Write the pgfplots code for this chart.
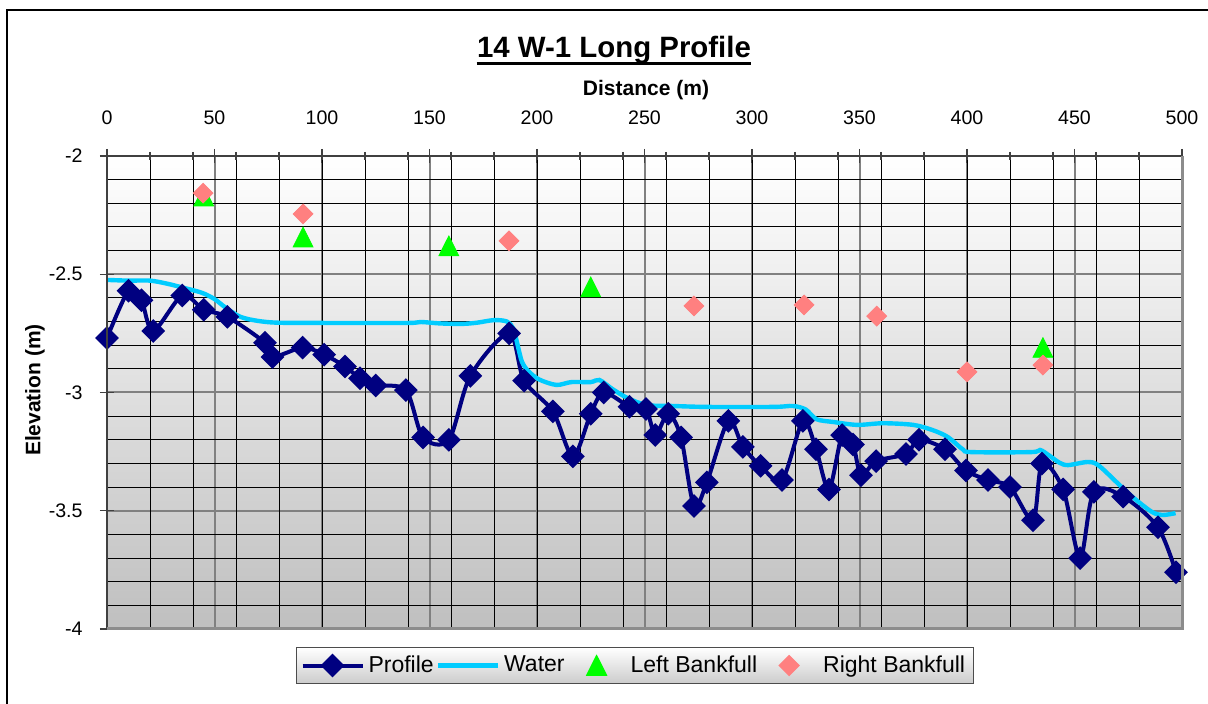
\documentclass[border=0pt]{standalone}
\usepackage{fontspec}
\setmainfont{Liberation Sans}
\usepackage{pgfplots}
\pgfplotsset{compat=1.18}
\definecolor{navyp}{RGB}{0,0,128}
\definecolor{waterc}{RGB}{0,204,255}
\definecolor{leftc}{RGB}{0,255,0}
\definecolor{rightc}{RGB}{255,128,128}
\pgfplotsset{markleg/.style={legend image code/.code={\path[mark repeat=2,mark phase=2,##1,draw=none] plot coordinates {(0pt,0pt) (15pt,0pt) (30pt,0pt)};}}}
\begin{document}
\begin{tikzpicture}
\useasboundingbox (0,0) rectangle (604pt,352pt);
\fill[white] (0,0) rectangle (604pt,352pt);
\draw[line width=0.7pt] (3.5pt,0) -- (3.5pt,347pt) -- (604pt,347pt);
\begin{axis}[
  name=ax,
  at={(53.5pt,37.5pt)}, anchor=south west,
  width=537.5pt, height=236.5pt, scale only axis,
  xmin=0, xmax=500, ymin=-4, ymax=-2,
  axis line style={draw=none},
  axis background/.style={shade, top color=white, bottom color=black!25},
  xtick={0,50,...,500},
  xtick pos=right, xticklabel pos=right,
  ytick pos=left,
  ytick={-4,-3.5,-3,-2.5,-2},
  yticklabels={-4,-3.5,-3,-2.5,-2},
  minor y tick num=4,
  extra x ticks={20,40,...,480},
  extra x tick labels={},
  extra x tick style={grid=major, major grid style={black, line width=0.5pt}, major tick length=4pt},
  grid=both,
  major grid style={black!50, line width=1pt},
  minor grid style={black, line width=0.5pt},
  tick align=center,
  major tick length=7pt, minor tick length=0pt,
  tick style={black!75, line width=0.6pt},
  /pgf/number format/assume math mode=true,
  tick label style={font=\fontsize{9.8}{11}\selectfont},
  xticklabel style={yshift=8.7pt},
  yticklabel style={xshift=-5.2pt},
  legend columns=4,
  legend style={at={(0.491,-0.0772)}, anchor=center, draw=black!70, line width=0.6pt,
    top color=white, bottom color=black!20, font=\fontsize{11.5}{13}\selectfont,
    inner sep=2pt, /tikz/every even column/.append style={column sep=-1pt}},
  legend image code/.code={\draw[mark repeat=2,mark phase=2,#1] plot coordinates {(0pt,0pt) (15pt,0pt) (30pt,0pt)};},
]
\addplot[navyp, line width=2pt, smooth, tension=0.5, mark=square*, mark size=3.2pt, mark options={rotate=45, solid}] table {
x y
0 -2.77
10 -2.57
16 -2.61
21.5 -2.74
35 -2.59
45 -2.65
56 -2.68
73.5 -2.79
77 -2.85
91 -2.81
101 -2.84
110.7 -2.89
117.7 -2.94
125 -2.97
139 -2.99
147 -3.19
159 -3.20
169 -2.93
187 -2.75
194 -2.95
207.4 -3.08
216.7 -3.27
225 -3.09
231 -3.00
243 -3.06
250.7 -3.07
255 -3.18
261 -3.09
267 -3.19
273 -3.48
279 -3.38
289 -3.12
295.8 -3.23
304 -3.31
314 -3.37
323.7 -3.12
329.8 -3.24
335.8 -3.41
341.9 -3.18
347 -3.22
350.7 -3.35
357.7 -3.29
371.6 -3.26
377.7 -3.20
389.8 -3.24
399.5 -3.33
409.8 -3.37
420 -3.40
430.7 -3.54
434.9 -3.30
444.7 -3.41
452.6 -3.70
459 -3.42
472.6 -3.44
488.8 -3.57
497.2 -3.76
};
\addlegendentry{Profile}
\addplot[waterc, line width=2.2pt, smooth, tension=0.5] table {
x y
0 -2.524
10 -2.527
20 -2.527
28 -2.540
35 -2.556
44 -2.578
50 -2.605
55 -2.640
62 -2.680
70 -2.697
80 -2.705
105 -2.706
140 -2.706
146 -2.702
155 -2.708
165 -2.710
172 -2.705
180 -2.694
186 -2.700
189 -2.730
191 -2.800
193 -2.870
196 -2.910
201 -2.945
209 -2.968
216 -2.956
225 -2.956
229 -2.947
235 -2.985
242 -3.023
251 -3.053
263 -3.057
279 -3.061
310 -3.061
319 -3.057
325 -3.072
330 -3.113
338 -3.125
349 -3.137
361 -3.130
375 -3.137
384 -3.159
391 -3.188
398 -3.240
402 -3.252
430 -3.252
434 -3.243
438 -3.265
443 -3.297
447 -3.307
456 -3.294
461 -3.307
470 -3.383
477 -3.442
486 -3.505
491 -3.518
497 -3.510
};
\addlegendentry{Water}
\addplot[draw=none, mark=triangle*, mark size=5.7pt, mark options={draw=leftc, fill=leftc, yshift=-1.6pt, yscale=1.15}, markleg] table {
x y
45 -2.170
91.2 -2.343
159 -2.380
225 -2.554
435.3 -2.810
};
\addlegendentry{Left Bankfull}
\addplot[draw=none, mark=square*, mark size=3.5pt, mark options={draw=rightc, fill=rightc, rotate=45}, markleg] table {
x y
44.7 -2.157
91.2 -2.245
187 -2.359
273 -2.634
324.2 -2.630
358 -2.677
400 -2.913
435.3 -2.884
};
\addlegendentry{Right Bankfull}
\end{axis}
\draw[black!75, line width=1pt] (ax.south west) -- (ax.north west) -- (ax.north east);
\draw[black!45, line width=1.5pt] (ax.north east) -- (ax.south east) -- (ax.south west);
\node[inner sep=0pt, anchor=base, font=\bfseries\fontsize{14.7}{17}\selectfont] (title) at (307pt,323pt) {14 W-1 Long Profile};
\draw[line width=1.4pt] ([yshift=-2.8pt]title.base west) -- ([yshift=-2.8pt]title.base east);
\node[inner sep=0pt, anchor=base, font=\bfseries\fontsize{10.5}{12}\selectfont] at (323pt,304pt) {Distance (m)};
\node[rotate=90, inner sep=0pt, anchor=center, font=\bfseries\fontsize{10.5}{12}\selectfont] at (17.5pt,157pt) {Elevation (m)};
\end{tikzpicture}
\end{document}
